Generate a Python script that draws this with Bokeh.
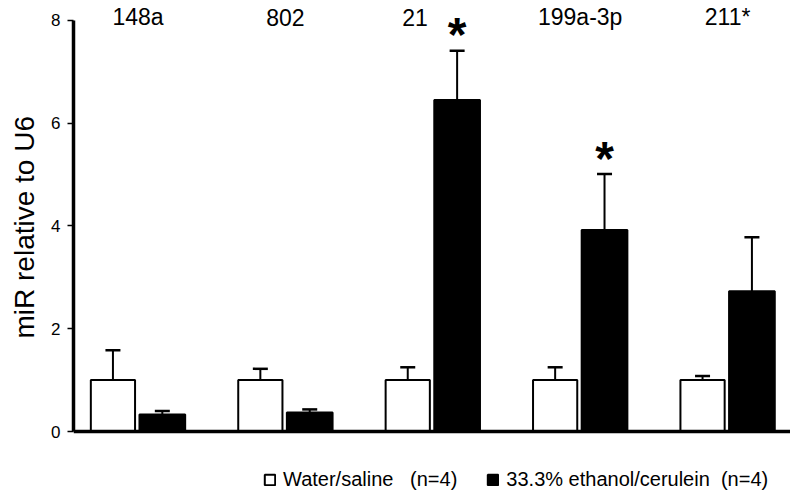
from bokeh.plotting import figure
from bokeh.models import (Range1d, Span, Whisker, TeeHead, ColumnDataSource,
                          Legend, LegendItem, FixedTicker, Title)
from bokeh.core.properties import value
from bokeh.embed import file_html
from bokeh.resources import INLINE

# ---- data ----
mirnas = ["148a", "802", "21", "199a-3p", "211*"]
saline_mean = [1.0, 1.0, 1.0, 1.0, 1.0]
saline_err = [0.58, 0.22, 0.25, 0.25, 0.08]
ethanol_mean = [0.33, 0.37, 6.45, 3.92, 2.73]
ethanol_err = [0.07, 0.06, 0.96, 1.09, 1.05]
significant = [False, False, True, True, False]
y_ticks = [0, 2, 4, 6, 8]
y_title = "miR relative to U6"

FONT = "Liberation Sans"
groups = list(range(1, len(mirnas) + 1))
xw = [g - 0.17 for g in groups]
xb = [g + 0.165 for g in groups]

src_w = ColumnDataSource(dict(x=xw, top=saline_mean,
                              up=[m + e for m, e in zip(saline_mean, saline_err)]))
src_b = ColumnDataSource(dict(x=xb, top=ethanol_mean,
                              up=[m + e for m, e in zip(ethanol_mean, ethanol_err)]))

p = figure(width=790, height=492, output_backend="svg", toolbar_location=None,
           x_range=Range1d(0.5624, 5.4267), y_range=Range1d(-1.1873, 8.389),
           x_axis_location=None, min_border_left=73, min_border_right=0,
           min_border_top=0, min_border_bottom=0)
p.outline_line_color = None
p.grid.visible = False
p.background_fill_color = "white"

# y axis
ax = p.yaxis[0]
ax.bounds = (0, 8)
ax.ticker = FixedTicker(ticks=y_ticks)
ax.axis_line_width = 3.5
ax.axis_line_color = "black"
ax.major_tick_line_width = 1.5
ax.major_tick_out = 6
ax.major_tick_in = 0
ax.minor_tick_out = 0
ax.minor_tick_in = 0
ax.major_label_text_font = FONT
ax.major_label_text_font_size = "17px"
ax.major_label_text_color = "black"
ax.major_label_standoff = 7

# y-axis title (left panel), positioned along the 0..8 axis span
p.add_layout(Title(text=y_title, align="left", offset=154, standoff=13,
                   vertical_align="top",
                   text_font=FONT, text_font_size="28px", text_font_style="normal",
                   text_color="black"), "left")

# x baseline
p.add_layout(Span(location=0, dimension="width", line_color="black", line_width=3.5))

# error bars (upper only)
for src in (src_w, src_b):
    w = Whisker(base="x", lower="top", upper="up", source=src,
                line_color="black", line_width=2,
                upper_head=TeeHead(size=15, line_width=2.5, line_color="black"),
                lower_head=None)
    p.add_layout(w)

rw = p.vbar(x="x", top="top", bottom=0, width=0.30, source=src_w,
            fill_color="white", line_color="black", line_width=2)
rb = p.vbar(x="x", top="top", bottom=0, width=0.31, source=src_b,
            fill_color="black", line_color="black", line_width=2)

# significance stars
sx = [x for x, s in zip(xb, significant) if s]
sy = [m + e for m, e, s in zip(ethanol_mean, ethanol_err, significant) if s]
p.text(x=sx, y=sy, text=["*"] * len(sx), text_font=value(FONT),
       text_font_size="48px", text_font_style="bold", text_align="center",
       text_baseline="alphabetic", y_offset=-16, text_color="black")

# group labels at top
label_shift = {"21": -0.12}
lx = [g + label_shift.get(m, 0.0) for g, m in zip(groups, mirnas)]
p.text(x=lx, y=[8] * len(groups), text=mirnas, text_font=value(FONT),
       text_font_size="23px", text_align="center", text_baseline="alphabetic",
       y_offset=-3, text_color="black")

legend = Legend(items=[LegendItem(label="Water/saline\u00a0\u00a0\u00a0(n=4)", renderers=[rw]),
                       LegendItem(label="33.3% ethanol/cerulein\u00a0\u00a0(n=4)", renderers=[rb])],
                orientation="horizontal", location=(190, 1),
                glyph_width=13, glyph_height=13, label_standoff=7, spacing=29,
                padding=0, margin=0, border_line_color=None,
                background_fill_alpha=0, label_text_font=FONT,
                label_text_font_size="20px", label_text_color="black",
                label_height=13, label_text_baseline="middle")
p.add_layout(legend, "center")

open("out.html", "w").write(file_html(p, INLINE))
